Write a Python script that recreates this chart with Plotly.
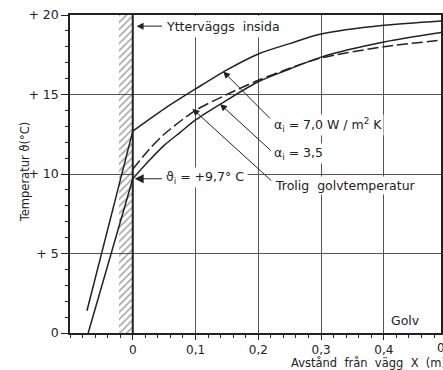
import plotly.graph_objects as go

# Temperature profiles through the outer wall and along the floor surface.
# x = distance from the inside face of the outer wall (m), t = temperature (°C)

# alpha_i = 7.0 W/m2K
wall_x_a70 = [-0.073, 0.0]
wall_t_a70 = [1.4, 12.7]
floor_x_a70 = [0.0, 0.025, 0.05, 0.10, 0.15, 0.20, 0.25, 0.30, 0.40, 0.50]
floor_t_a70 = [12.7, 13.4, 14.1, 15.35, 16.55, 17.55, 18.2, 18.8, 19.35, 19.65]

# alpha_i = 3.5 W/m2K
wall_x_a35 = [-0.071, 0.0]
wall_t_a35 = [0.0, 9.7]
floor_x_a35 = [0.0, 0.025, 0.05, 0.075, 0.10, 0.15, 0.20, 0.25, 0.30, 0.40, 0.50]
floor_t_a35 = [9.7, 10.8, 11.8, 12.6, 13.4, 14.65, 15.8, 16.6, 17.35, 18.3, 18.95]

# probable floor temperature
floor_x_prob = [0.0, 0.025, 0.05, 0.10, 0.15, 0.20, 0.25, 0.30, 0.40, 0.50]
floor_t_prob = [10.3, 11.5, 12.5, 14.0, 15.0, 15.9, 16.65, 17.3, 18.0, 18.45]

wall_inside_t = 9.7
wall_layer = [-0.022, 0.0]

x_ticks = [0, 0.1, 0.2, 0.3, 0.4]
x_ticktext = ["0", "0,1", "0,2", "0,3", "0,4"]
y_ticks = [0, 5, 10, 15, 20]
y_ticktext = ["0", "+ 5", "+ 10", "+ 15", "+ 20"]

X_RANGE = [-0.1, 0.491]
Y_RANGE = [0, 20]

FONT = "DejaVu Sans, sans-serif"
INK = "#222222"
GRID = "#555555"

fig = go.Figure()

# hatched wall layer
fig.add_trace(go.Scatter(
    x=[wall_layer[0], wall_layer[1], wall_layer[1], wall_layer[0], wall_layer[0]],
    y=[Y_RANGE[0], Y_RANGE[0], Y_RANGE[1], Y_RANGE[1], Y_RANGE[0]],
    mode="lines", fill="toself", line=dict(width=0),
    fillcolor="rgba(0,0,0,0)",
    fillpattern=dict(shape="/", fgcolor="#444444", bgcolor="rgba(0,0,0,0)",
                     size=5, solidity=0.3),
    hoverinfo="skip", showlegend=False,
))

solid = dict(color=INK, width=1.5)
for xs, ts in [(wall_x_a70, wall_t_a70), (wall_x_a35, wall_t_a35)]:
    fig.add_trace(go.Scatter(x=xs, y=ts, mode="lines", line=solid,
                             showlegend=False))
for xs, ts in [(floor_x_a70, floor_t_a70), (floor_x_a35, floor_t_a35)]:
    fig.add_trace(go.Scatter(x=xs, y=ts, mode="lines",
                             line=dict(solid, shape="spline", smoothing=0.8),
                             showlegend=False))
fig.add_trace(go.Scatter(x=floor_x_prob, y=floor_t_prob, mode="lines",
                         line=dict(color=INK, width=1.5, dash="11px,4px",
                                   shape="spline", smoothing=0.8),
                         showlegend=False))

# inside face of the outer wall
fig.add_shape(type="line", x0=0, x1=0, y0=Y_RANGE[0], y1=Y_RANGE[1],
              line=dict(color=INK, width=2))
# keep gridlines clear behind the labels
fig.add_shape(type="rect", layer="between", x0=0.003, x1=0.183, y0=9.85, y1=10.3,
              line=dict(width=0), fillcolor="white")
fig.add_shape(type="rect", layer="between", x0=0.04, x1=0.25, y0=18.6, y1=19.95,
              line=dict(width=0), fillcolor="white")

lab = dict(size=12.5, color=INK, family=FONT)


def label(x, y, text):
    fig.add_annotation(x=x, y=y, text=text, showarrow=False, xanchor="left",
                       yanchor="middle", font=lab, bgcolor="white", borderpad=1)


def arrow(x, y, ax, ay, size=1.4):
    fig.add_annotation(x=x, y=y, ax=ax, ay=ay, axref="x", ayref="y", text="",
                       showarrow=True, arrowhead=2, arrowsize=size, arrowwidth=1,
                       arrowcolor=INK, standoff=0)


fig.add_annotation(x=0.049, y=19.3, text="Ytterväggs\u00a0 insida", showarrow=False,
                   xanchor="left", yanchor="middle", font=lab)
arrow(0.006, 19.3, 0.049, 19.3)

label(0.221, 13.1, "α<sub>i</sub> = 7,0 W / m<sup>2</sup> K")
arrow(0.144, 16.45, 0.221, 13.4)
label(0.221, 11.3, "α<sub>i</sub> = 3,5")
arrow(0.139, 14.4, 0.222, 11.4)
label(0.223, 9.25, "Trolig  golvtemperatur")
arrow(0.095, 14.1, 0.223, 9.5)

label(0.049, wall_inside_t + 0.05, "ϑ<sub>i</sub> = +9,7° C")
arrow(0.003, wall_inside_t, 0.049, wall_inside_t, size=1.8)

label(0.408, 0.8, "Golv")

# axis titles and the partly visible 0,5 tick label
tick_font = dict(size=12, color=INK, family=FONT)
span = X_RANGE[1] - X_RANGE[0]
fig.add_annotation(xref="paper", yref="paper", x=(0.5 - X_RANGE[0]) / span, y=0,
                   yshift=-15, text="0,5", showarrow=False, font=tick_font,
                   xanchor="center", yanchor="middle")
fig.add_annotation(xref="paper", yref="paper", x=0.59, y=-0.093,
                   text="Avstånd\u00a0 från\u00a0 vägg\u00a0 X\u00a0 (m)", showarrow=False,
                   font=dict(size=11.5, color=INK, family=FONT),
                   xanchor="left", yanchor="middle")
fig.add_annotation(xref="paper", yref="paper", x=-45 / 373, y=0.506,
                   text="Temperatur ϑ(°C)", textangle=-90, showarrow=False,
                   font=dict(size=11.5, color=INK, family=FONT),
                   xanchor="center", yanchor="middle")

fig.update_xaxes(range=X_RANGE, tickvals=x_ticks, ticktext=x_ticktext,
                 showgrid=True, gridcolor=GRID, gridwidth=1, zeroline=False,
                 showline=True, linecolor=INK, linewidth=1.5, mirror=True,
                 ticks="outside", ticklen=5, tickcolor=INK, tickwidth=1,
                 minor=dict(dtick=0.02, tick0=0, ticks="outside", ticklen=3,
                            tickcolor=INK, showgrid=False),
                 tickfont=tick_font)
fig.update_yaxes(range=Y_RANGE, tickvals=y_ticks, ticktext=y_ticktext,
                 showgrid=True, gridcolor=GRID, gridwidth=1, zeroline=False,
                 showline=True, linecolor=INK, linewidth=1.5, mirror=True,
                 ticks="outside", ticklen=7, tickcolor=INK, tickwidth=1,
                 minor=dict(dtick=1, ticks="outside", ticklen=3, tickcolor=INK,
                            showgrid=False),
                 tickfont=dict(size=12.5, color=INK, family=FONT))

fig.update_layout(width=443, height=370, autosize=False,
                  margin=dict(l=70, r=0, t=15, b=37),
                  plot_bgcolor="white", paper_bgcolor="white",
                  showlegend=False)

fig.write_html("out.html")
